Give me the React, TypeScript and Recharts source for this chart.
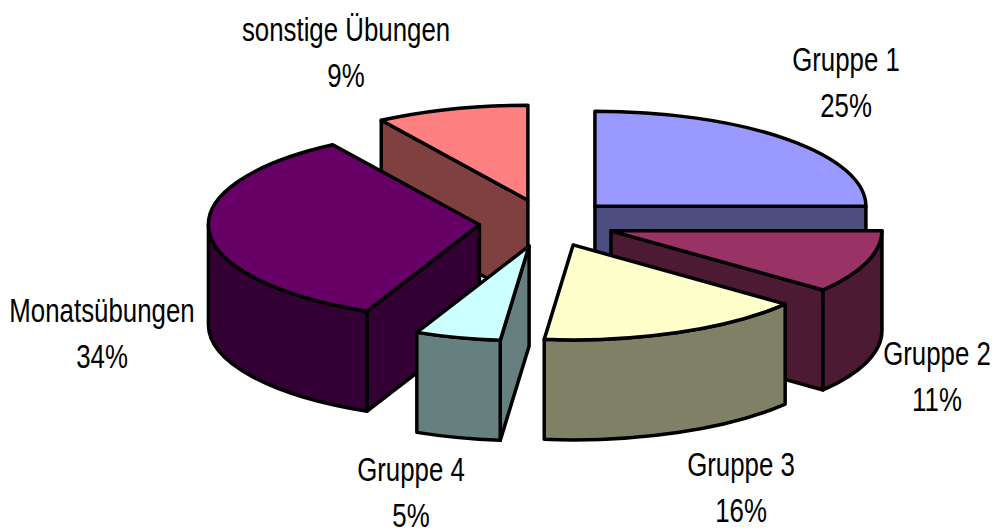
import { PieChart, Pie } from "recharts";

const names = ["Gruppe 1", "Gruppe 2", "Gruppe 3", "Gruppe 4", "Monatsübungen", "sonstige Übungen"];
// the labels show them rounded
const shares = [25, 10.7, 16, 5.1, 34.1, 9.1];
const topColors = ["#9999FF", "#993366", "#FFFFCC", "#CCFFFF", "#660066", "#FF8080"];
const sideColors = ["#4D4D80", "#4D1A33", "#808066", "#668080", "#330033", "#804040"];

// back to front, the slices overlap each other
const paintOrder = [5, 0, 4, 1, 2, 3];
// label centre x, first baseline y
const labelSpots = [[846, 71], [937, 365], [741, 476], [411, 481], [102, 322], [346, 41]];

const slices = names.map((name, i) => ({ name, value: shares[i] }));

const RX = 271;
const RY = 95;
const DEPTH = 100;
const EXPLODE = 0.25;

function rad(deg: number) { return (deg * Math.PI) / 180; }

function Slice3D({ cx, cy, startAngle, endAngle, index, only }: any) {
  if (index !== only) return null;
  // recharts angles are math degrees, going clockwise from 90
  const a0 = 90 - startAngle;
  const a1 = 90 - endAngle;
  const mid = (a0 + a1) / 2;
  const ax = cx + Math.sin(rad(mid)) * RX * EXPLODE;
  const ay = cy - Math.cos(rad(mid)) * RY * EXPLODE;
  const rim = (a: number) => [ax + Math.sin(rad(a)) * RX, ay - Math.cos(rad(a)) * RY];
  const [x0, y0] = rim(a0);
  const [x1, y1] = rim(a1);
  const large = a1 - a0 > 180 ? 1 : 0;
  const line = { stroke: "#000", strokeWidth: 3.5, strokeLinejoin: "round" as const };
  const side = sideColors[index];

  const face = (x: number, y: number) =>
    `M${ax},${ay} L${x},${y} L${x},${y + DEPTH} L${ax},${ay + DEPTH} Z`;

  // outer wall, only the part that faces the viewer
  const w0 = Math.max(a0, 90);
  const w1 = Math.min(a1, 270);
  let wall = null;
  if (w1 > w0) {
    const [wx0, wy0] = rim(w0);
    const [wx1, wy1] = rim(w1);
    wall = `M${wx0},${wy0} A${RX},${RY} 0 0 1 ${wx1},${wy1} L${wx1},${wy1 + DEPTH} A${RX},${RY} 0 0 0 ${wx0},${wy0 + DEPTH} Z`;
  }

  return (
    <g>
      {Math.sin(rad(a0)) < -0.001 && <path d={face(x0, y0)} fill={side} {...line} />}
      {Math.sin(rad(a1)) > 0.001 && <path d={face(x1, y1)} fill={side} {...line} />}
      {wall && <path d={wall} fill={side} {...line} />}
      <path d={`M${ax},${ay} L${x0},${y0} A${RX},${RY} 0 ${large} 1 ${x1},${y1} Z`} fill={topColors[index]} {...line} />
    </g>
  );
}

function SliceLabel({ x, y, text }: { x: number; y: number; text: string }) {
  return (
    <text transform={`translate(${x},${y}) scale(0.76,1)`} textAnchor="middle"
      fontFamily="'Liberation Sans', Arial, sans-serif" fontSize={34} fill="#000">
      {text}
    </text>
  );
}

export default function App() {
  return (
    <div style={{ position: "absolute", left: 0, top: 0, width: 994, height: 532, background: "#fff" }}>
      <PieChart width={994} height={532} margin={{ top: 0, right: 0, bottom: 0, left: 0 }}>
        {paintOrder.map((only) => (
          <Pie
            key={only}
            data={slices}
            dataKey="value"
            cx={547}
            cy={223}
            outerRadius={RX}
            startAngle={90}
            endAngle={-270}
            paddingAngle={0}
            isAnimationActive={false}
            shape={(props: any) => <Slice3D {...props} only={only} />}
          />
        ))}
        {names.map((name, i) => (
          <g key={name}>
            <SliceLabel x={labelSpots[i][0]} y={labelSpots[i][1]} text={name} />
            <SliceLabel x={labelSpots[i][0]} y={labelSpots[i][1] + 46} text={`${Math.round(shares[i])}%`} />
          </g>
        ))}
      </PieChart>
    </div>
  );
}
